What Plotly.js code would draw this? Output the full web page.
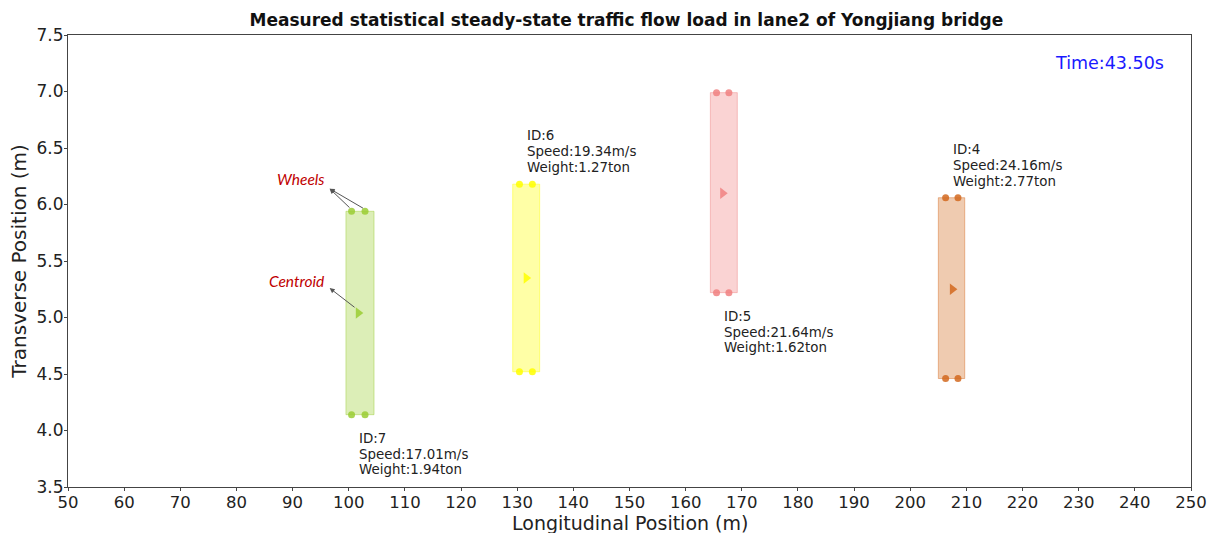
<!DOCTYPE html>
<html>
<head>
<meta charset="utf-8">
<script src="https://cdn.plot.ly/plotly-3.0.1.min.js"></script>
<style>html,body{margin:0;padding:0;background:#fff;}#chart{width:1214px;height:533px;}</style>
</head>
<body>
<div id="chart"></div>
<script>
const vehicleIds = [7, 6, 5, 4];
const speeds = [17.01, 19.34, 21.64, 24.16];
const weights = [1.94, 1.27, 1.62, 2.77];
const rectLeft = [99.5, 129.2, 164.4, 205.0];
const rectRight = [104.5, 134.0, 169.2, 209.7];
const wheelX1 = [100.5, 130.4, 165.5, 206.3];
const wheelX2 = [102.9, 132.7, 167.7, 208.5];
const wheelTopY = [5.94, 6.18, 6.99, 6.06];
const wheelBottomY = [4.14, 4.52, 5.22, 4.46];
const centroidX = [101.7, 131.6, 166.6, 207.5];
const centroidY = [5.04, 5.35, 6.10, 5.25];
const labelAbove = [false, true, false, true];
const vehicleColors = ['154,205,50', '255,255,0', '240,128,128', '210,105,30'];
const timeText = 'Time:43.50s';
const xTicks = [50,60,70,80,90,100,110,120,130,140,150,160,170,180,190,200,210,220,230,240,250];
const yTicks = [3.5,4.0,4.5,5.0,5.5,6.0,6.5,7.0,7.5];

const traces = [];
const annotations = [];
const font = 'DejaVu Sans, sans-serif';

vehicleIds.forEach((id, i) => {
  const c = vehicleColors[i];
  traces.push({
    x: [rectLeft[i], rectRight[i], rectRight[i], rectLeft[i], rectLeft[i]],
    y: [wheelBottomY[i], wheelBottomY[i], wheelTopY[i], wheelTopY[i], wheelBottomY[i]],
    mode: 'lines', fill: 'toself',
    fillcolor: 'rgba(' + c + ',0.35)',
    line: {color: 'rgba(' + c + ',0.45)', width: 1},
    hoverinfo: 'skip', showlegend: false
  });
  traces.push({
    x: [wheelX1[i], wheelX2[i], wheelX1[i], wheelX2[i]],
    y: [wheelTopY[i], wheelTopY[i], wheelBottomY[i], wheelBottomY[i]],
    mode: 'markers', marker: {color: 'rgb(' + c + ')', size: 7, opacity: 0.85},
    showlegend: false
  });
  traces.push({
    x: [centroidX[i]], y: [centroidY[i]],
    mode: 'markers', marker: {color: 'rgb(' + c + ')', size: 10, symbol: 'triangle-right', opacity: 0.85},
    showlegend: false
  });
  const lines = ['ID:' + id, 'Speed:' + speeds[i].toFixed(2) + 'm/s', 'Weight:' + weights[i].toFixed(2) + 'ton'];
  lines.forEach((t, k) => {
    let shift;
    if (labelAbove[i]) shift = 16.5 + (2 - k) * 16;
    else shift = -(24 + k * 15.5);
    annotations.push({
      x: centroidX[i], y: labelAbove[i] ? wheelTopY[i] : wheelBottomY[i],
      xref: 'x', yref: 'y', text: t, showarrow: false,
      xanchor: 'left', yanchor: 'middle', yshift: shift, xshift: -1,
      font: {family: font, size: 13.4, color: '#222'}
    });
  });
});

// Explanatory annotations for vehicle 7
const labelColor = '#c00000';
annotations.push({x: 91.5, y: 6.23, xref: 'x', yref: 'y', text: '<i>Wheels</i>', showarrow: false,
  font: {family: 'Lato, sans-serif', size: 15.5, color: labelColor}});
annotations.push({x: 90.7, y: 5.32, xref: 'x', yref: 'y', text: '<i>Centroid</i>', showarrow: false,
  font: {family: 'Lato, sans-serif', size: 15.5, color: labelColor}});
[[wheelX1[0], wheelTopY[0]], [wheelX2[0], wheelTopY[0]]].forEach(p => {
  annotations.push({x: 96.6, y: 6.14, xref: 'x', yref: 'y', ax: p[0] - 0.1, ay: p[1] + 0.02, axref: 'x', ayref: 'y',
    text: '', showarrow: true, arrowhead: 2, arrowsize: 1, arrowwidth: 1, arrowcolor: '#555'});
});
annotations.push({x: 96.6, y: 5.26, xref: 'x', yref: 'y', ax: centroidX[0] - 0.4, ay: centroidY[0] + 0.04, axref: 'x', ayref: 'y',
  text: '', showarrow: true, arrowhead: 2, arrowsize: 1, arrowwidth: 1, arrowcolor: '#555'});

annotations.push({x: 225.5, y: 7.25, xref: 'x', yref: 'y', text: timeText, showarrow: false,
  xanchor: 'left', yanchor: 'middle', font: {family: font, size: 17.5, color: '#1a1aff'}});

// x-axis title placed as a paper annotation to sit just under the tick labels
annotations.push({x: 0.5, y: 0, xref: 'paper', yref: 'paper', yshift: -36, text: 'Longitudinal Position (m)',
  showarrow: false, xanchor: 'center', yanchor: 'middle', font: {family: font, size: 19, color: '#222'}});

const axisCommon = {
  showgrid: false, zeroline: false, showline: true, mirror: true,
  linecolor: '#444', linewidth: 1, ticks: 'outside', ticklen: 3, tickcolor: '#444',
  tickfont: {family: font, size: 17, color: '#222'}
};

const layout = {
  width: 1214, height: 533,
  margin: {l: 68, r: 23, t: 35, b: 46},
  paper_bgcolor: '#fff', plot_bgcolor: '#fff',
  title: {text: '<b>Measured statistical steady-state traffic flow load in lane2 of Yongjiang bridge</b>',
    x: 0.516, xanchor: 'center', y: 0.962, yanchor: 'middle',
    font: {family: font, size: 17, color: '#111'}},
  xaxis: Object.assign({}, axisCommon, {range: [50, 250], tickvals: xTicks, ticktext: xTicks.map(String),
    ticklabelstandoff: -3, tickfont: {family: font, size: 16.5, color: '#222'}}),
  yaxis: Object.assign({}, axisCommon, {range: [3.5, 7.5], tickvals: yTicks, ticktext: yTicks.map(v => v.toFixed(1)),
    ticklabelstandoff: -3,
    title: {text: 'Transverse Position (m)', font: {family: font, size: 20, color: '#222'}, standoff: 4}}),
  annotations: annotations,
  showlegend: false
};

Plotly.newPlot('chart', traces, layout, {displayModeBar: false, staticPlot: true});
</script>
</body>
</html>
